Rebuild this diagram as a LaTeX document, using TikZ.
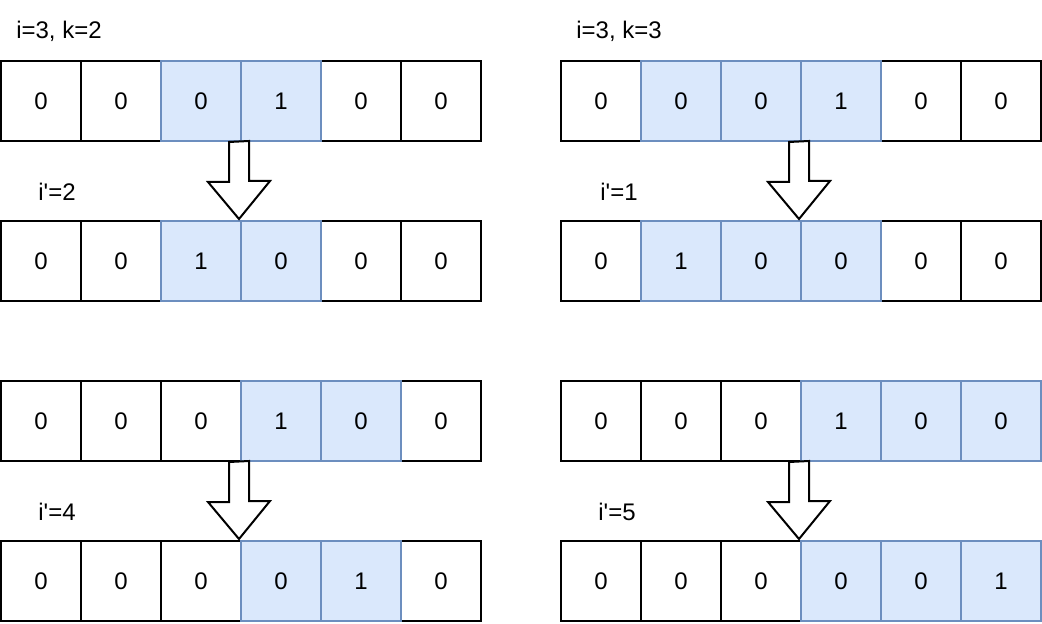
\documentclass[tikz,border=0pt]{standalone}
\usepackage{fontspec}
\newfontfamily\arialfont{Liberation Sans}
\usetikzlibrary{calc}
\definecolor{cellfill}{HTML}{DAE8FC}
\definecolor{celldraw}{HTML}{6C8EBF}

\begin{document}
\begin{tikzpicture}[x=0.5pt,y=-0.5pt,
  every node/.style={font=\arialfont\fontsize{12}{14}\selectfont},
  cell/.style={draw=black,line width=1pt,fill=white,minimum size=40pt,inner sep=0pt},
  hcell/.style={cell,draw=celldraw,fill=cellfill},
  barrow/.style={draw=black,line width=1pt,fill=white,line join=miter}]
\useasboundingbox (0,0) rectangle (1042,624);

% left side, i=3, k=2
\node (lk2) at (59,31) {i=3, k=2};
\foreach \j/\v in {1/0,2/0,5/0,6/0} \node[cell] (l1-\j) at ({80*\j-39},101) {\v};
\foreach \j/\v in {3/0,4/1} \node[hcell] (l1-\j) at ({80*\j-39},101) {\v};

\node (lp2) at (57,192) {i'=2};
\foreach \j/\v in {1/0,2/0,5/0,6/0} \node[cell] (l2-\j) at ({80*\j-39},261) {\v};
\foreach \j/\v in {3/1,4/0} \node[hcell] (l2-\j) at ({80*\j-39},261) {\v};

\foreach \j/\v in {1/0,2/0,3/0,6/0} \node[cell] (l3-\j) at ({80*\j-39},421) {\v};
\foreach \j/\v in {4/1,5/0} \node[hcell] (l3-\j) at ({80*\j-39},421) {\v};

\node (lp4) at (57,512) {i'=4};
\foreach \j/\v in {1/0,2/0,3/0,6/0} \node[cell] (l4-\j) at ({80*\j-39},581) {\v};
\foreach \j/\v in {4/0,5/1} \node[hcell] (l4-\j) at ({80*\j-39},581) {\v};

% right side, i=3, k=3
\node (rk3) at (619,31) {i=3, k=3};
\foreach \j/\v in {1/0,5/0,6/0} \node[cell] (r1-\j) at ({80*\j+521},101) {\v};
\foreach \j/\v in {2/0,3/0,4/1} \node[hcell] (r1-\j) at ({80*\j+521},101) {\v};

\node (rp1) at (619,192) {i'=1};
\foreach \j/\v in {1/0,5/0,6/0} \node[cell] (r2-\j) at ({80*\j+521},261) {\v};
\foreach \j/\v in {2/1,3/0,4/0} \node[hcell] (r2-\j) at ({80*\j+521},261) {\v};

\foreach \j/\v in {1/0,2/0,3/0} \node[cell] (r3-\j) at ({80*\j+521},421) {\v};
\foreach \j/\v in {4/1,5/0,6/0} \node[hcell] (r3-\j) at ({80*\j+521},421) {\v};

\node (rp5) at (617,512) {i'=5};
\foreach \j/\v in {1/0,2/0,3/0} \node[cell] (r4-\j) at ({80*\j+521},581) {\v};
\foreach \j/\v in {4/0,5/0,6/1} \node[hcell] (r4-\j) at ({80*\j+521},581) {\v};

% block arrows
\foreach \a/\b in {l1/l2,l3/l4,r1/r2,r3/r4}
  \draw[barrow] ($(\a-3.south east)+(-13,0)$) -- ++(0,40) -- ++(-21,0)
    -- ($(\b-3.north east)+(-3,-1)$) -- ++(31,-38) -- ++(-21,0) -- ++(0,-40) -- cycle;
\end{tikzpicture}
\end{document}
